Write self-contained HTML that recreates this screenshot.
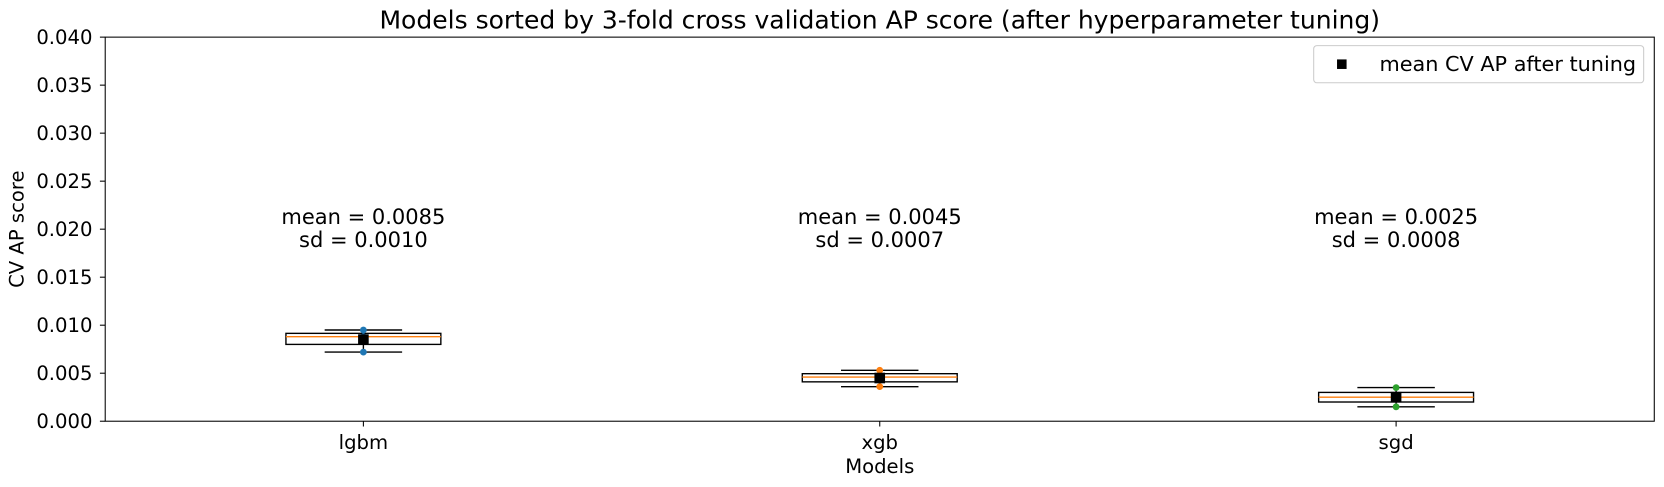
<!DOCTYPE html>
<html><head><meta charset="utf-8"><style>
body{margin:0;background:#fff}
svg{display:block}
svg text{font-family:"DejaVu Sans","Liberation Sans",sans-serif;fill:#000}
</style></head><body>
<svg id="chart" width="1664" height="487" viewBox="0 0 1568 459" xmlns="http://www.w3.org/2000/svg">
<text x="829" y="27" font-size="23.6" text-anchor="middle">Models sorted by 3-fold cross validation AP score (after hyperparameter tuning)</text>
<g id="plot"></g>
<rect x="99" y="35" width="1460" height="362" fill="none" stroke="#000" stroke-width="1"/>
<text x="829" y="446" font-size="18.5" text-anchor="middle">Models</text>
<text transform="translate(22,216) rotate(-90)" font-size="18.5" text-anchor="middle">CV AP score</text>
<g>
<rect x="1238" y="43" width="311" height="35" rx="3" fill="#fff" stroke="#ccc"/>
<rect x="1260" y="56" width="9" height="9" fill="#000"/>
<text x="1300" y="67" font-size="19.6">mean CV AP after tuning</text>
</g>
</svg>
<script>
const categories=["lgbm","xgb","sgd"];
const foldScores=[[0.0072,0.0088,0.0095],[0.0036,0.0046,0.0053],[0.0015,0.0025,0.0035]];
const means=[0.0085,0.0045,0.0025];
const sds=[0.0010,0.0007,0.0008];
const colors=["#1f77b4","#ff7f0e","#2ca02c"];
const yTicks=[0,0.005,0.01,0.015,0.02,0.025,0.03,0.035,0.04];
const NS="http://www.w3.org/2000/svg";
const L=99,R=1559,T=35,B=397,YMAX=0.04;
const X=i=>L+(i+0.5)/categories.length*(R-L);
const Y=v=>B-v/YMAX*(B-T);
const g=document.getElementById('plot');
function mk(t,a,p){const e=document.createElementNS(NS,t);for(const k in a)e.setAttribute(k,a[k]);(p||g).appendChild(e);return e;}
yTicks.forEach(v=>{
  const y=Y(v);
  const l=mk('line',{x1:L-5,x2:L,y1:y,y2:y,stroke:'#000'});
  
  
  const t=mk('text',{x:L-12,y:y+6.5,'font-size':18.5,'text-anchor':'end'});
  t.textContent=v.toFixed(3);
  
  
});
const uw=(R-L)/categories.length;
categories.forEach((c,i)=>{
  const x=X(i);
  const s=foldScores[i].slice().sort((a,b)=>a-b);
  const q=p=>{const h=(s.length-1)*p,lo=Math.floor(h),hi=Math.ceil(h);return s[lo]+(s[hi]-s[lo])*(h-lo);};
  const q1=q(0.25),med=q(0.5),q3=q(0.75);
  const bw=uw*0.3,cw=uw*0.15;
  const tick=mk('line',{x1:x,x2:x,y1:B,y2:B+5,stroke:'#000'});
  
  
  const tl=mk('text',{x:x,y:B+26,'font-size':18.5,'text-anchor':'middle'});
  tl.textContent=c;
  
  
  const wh=mk('path',{d:`M${x},${Y(s[0])}V${Y(q1)}M${x},${Y(q3)}V${Y(s[s.length-1])}M${x-cw/2},${Y(s[0])}H${x+cw/2}M${x-cw/2},${Y(s[s.length-1])}H${x+cw/2}`,stroke:'#000','stroke-width':1.3,fill:'none'});
  
  
  const bx=mk('rect',{x:x-bw/2,y:Y(q3),width:bw,height:Y(q1)-Y(q3),fill:'none',stroke:'#000','stroke-width':1.3});
  
  
  const md=mk('line',{x1:x-bw/2,x2:x+bw/2,y1:Y(med),y2:Y(med),stroke:'#ff7f0e','stroke-width':1.3});
  
  
  foldScores[i].forEach(v=>{
    const p=mk('circle',{cx:x,cy:Y(v),r:3.2,fill:colors[i]});
    
    
  });
  const m=mk('rect',{x:x-5,y:Y(means[i])-5,width:10,height:10,fill:'#000'});
  
  
  const a1=mk('text',{x:x,y:211,'font-size':19.8,'text-anchor':'middle'});
  a1.textContent='mean = '+means[i].toFixed(4);
  
  
  const a2=mk('text',{x:x,y:233,'font-size':19.8,'text-anchor':'middle'});
  a2.textContent='sd = '+sds[i].toFixed(4);
  
  
});
</script>
</body></html>
